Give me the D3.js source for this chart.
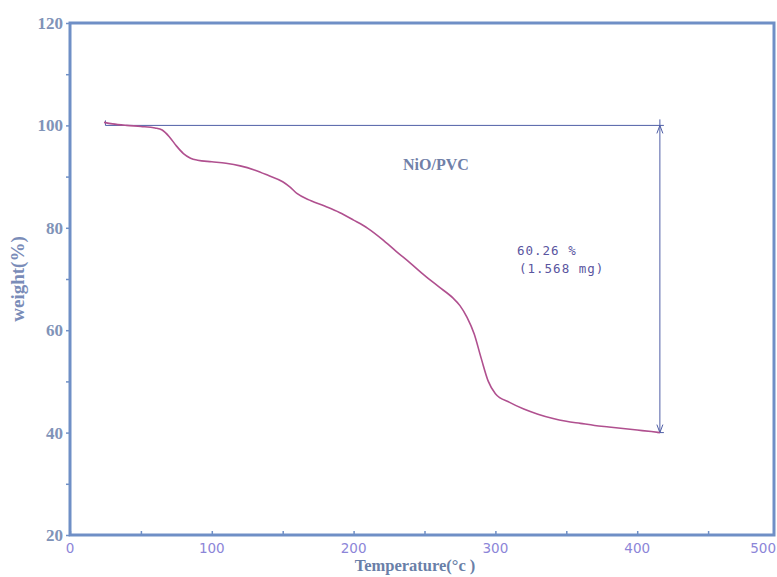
<!DOCTYPE html>
<html><head><meta charset="utf-8">
<script src="https://cdn.jsdelivr.net/npm/d3@7"></script>
<style>body{margin:0;background:#fff}svg{display:block}</style>
</head><body>
<script>
const temperature = [24, 30, 40, 50, 60, 65, 70, 75, 80, 85, 90, 100, 110, 120, 130, 140, 150, 155, 160, 170, 180, 190, 200, 210, 220, 230, 240, 250, 260, 270, 275, 280, 285, 290, 295, 300, 310, 320, 330, 340, 350, 360, 370, 380, 390, 400, 410, 416];
const weight = [100.6, 100.3, 100.0, 99.8, 99.5, 99.1, 97.8, 96.0, 94.5, 93.6, 93.2, 92.9, 92.6, 92.1, 91.3, 90.2, 89.0, 88.0, 86.7, 85.3, 84.2, 83.0, 81.5, 79.9, 77.8, 75.4, 73.1, 70.7, 68.5, 66.3, 64.8, 62.5, 59.3, 54.5, 50.0, 47.6, 45.9, 44.6, 43.6, 42.8, 42.2, 41.8, 41.4, 41.1, 40.8, 40.5, 40.2, 40.0];
const xTicks = [0, 100, 200, 300, 400, 500];
const yTicks = [20, 40, 60, 80, 100, 120];
const sampleLabel = "NiO/PVC";
const lossLabel = ["60.26 %", "(1.568 mg)"];
const refStart = 25, refEnd = 416, refTop = 100, refBottom = 40;

const W = 777, H = 577;
const svg = d3.select("body").append("svg").attr("width", W).attr("height", H);
const x = d3.scaleLinear().domain([0, 500]).range([70, 779]);
const y = d3.scaleLinear().domain([20, 120]).range([535, 23]);

const axisCol = "#6f8fc6";
const gx = svg.append("g").attr("transform", "translate(0,535)")
  .call(d3.axisBottom(x).tickValues(d3.range(0, 501, 50)).tickSize(-4).tickFormat(""));
gx.select(".domain").remove();
gx.selectAll("line").attr("stroke", axisCol).attr("stroke-width", 1.5);
const gy = svg.append("g").attr("transform", "translate(70,0)")
  .call(d3.axisLeft(y).tickValues(d3.range(20, 121, 10)).tickSize(4).tickFormat(""));
gy.select(".domain").remove();
gy.selectAll("line").attr("stroke", axisCol).attr("stroke-width", 1.5);

svg.append("rect").attr("x", 70).attr("y", 23).attr("width", 704).attr("height", 512)
  .attr("fill", "none").attr("stroke", axisCol).attr("stroke-width", 3);

svg.append("g").selectAll("text").data(yTicks).join("text")
  .attr("x", 63).attr("y", d => y(d) + 6).attr("text-anchor", "end")
  .attr("font-family", "Liberation Serif, serif").attr("font-weight", "bold")
  .attr("font-size", 17).attr("fill", "#8093b8").text(d => d);
svg.append("g").selectAll("text").data(xTicks).join("text")
  .attr("x", d => d === 500 ? 776 : x(d)).attr("y", 553)
  .attr("text-anchor", d => d === 500 ? "end" : "middle")
  .attr("font-family", "DejaVu Sans, sans-serif").attr("font-size", 13.5)
  .attr("fill", "#8c85d8").text(d => d);

svg.append("text").attr("x", 415).attr("y", 571).attr("text-anchor", "middle")
  .attr("font-family", "Liberation Serif, serif").attr("font-weight", "bold")
  .attr("font-size", 16.5).attr("fill", "#6a7fa8").text("Temperature(°c )");
svg.append("text").attr("transform", "translate(24,279) rotate(-90)").attr("text-anchor", "middle")
  .attr("font-family", "Liberation Serif, serif").attr("font-weight", "bold")
  .attr("font-size", 19).attr("fill", "#7a8cb8").text("weight(%)");

const annCol = "#4f5ea6";
const ann = svg.append("g").attr("stroke", annCol).attr("stroke-width", 1).attr("fill", "none");
ann.append("line").attr("x1", x(refStart)).attr("x2", x(refEnd) + 4).attr("y1", y(refTop)).attr("y2", y(refTop));
ann.append("line").attr("x1", x(refStart)).attr("x2", x(refStart)).attr("y1", y(refTop) - 5).attr("y2", y(refTop));
ann.append("line").attr("x1", x(refEnd) - 3).attr("x2", x(refEnd) + 4).attr("y1", y(refBottom)).attr("y2", y(refBottom));
ann.append("line").attr("x1", x(refEnd)).attr("x2", x(refEnd)).attr("y1", y(refTop) - 6).attr("y2", y(refBottom));
ann.append("path").attr("d", `M${x(refEnd)-3},${y(refTop)+8}L${x(refEnd)},${y(refTop)}L${x(refEnd)+3},${y(refTop)+8}`);
ann.append("path").attr("d", `M${x(refEnd)-3},${y(refBottom)-8}L${x(refEnd)},${y(refBottom)}L${x(refEnd)+3},${y(refBottom)-8}`);

svg.append("text").attr("x", 403).attr("y", 170)
  .attr("font-family", "Liberation Serif, serif").attr("font-weight", "bold")
  .attr("font-size", 16).attr("fill", "#7080a8").text(sampleLabel);
svg.selectAll(".loss").data(lossLabel).join("text").attr("class", "loss")
  .attr("x", (d, i) => i === 0 ? 517 : 519).attr("y", (d, i) => 255 + i * 18)
  .attr("font-family", "DejaVu Sans Mono, monospace").attr("font-size", 12.5)
  .attr("letter-spacing", 1).attr("fill", "#5a55a0").text(d => d);

const data = temperature.map((t, i) => [t, weight[i]]);
svg.append("path").datum(data)
  .attr("fill", "none").attr("stroke", "#b0508f").attr("stroke-width", 1.6)
  .attr("d", d3.line().x(d => x(d[0])).y(d => y(d[1])).curve(d3.curveMonotoneX));
</script>
</body></html>
